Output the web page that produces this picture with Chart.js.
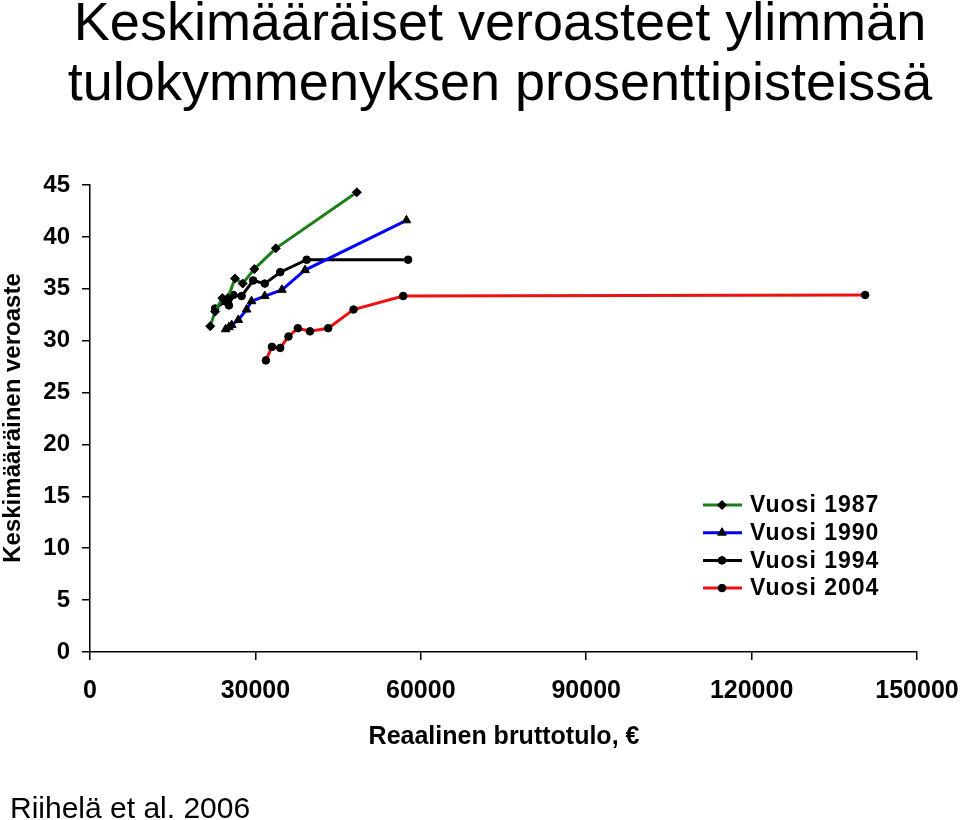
<!DOCTYPE html>
<html>
<head>
<meta charset="utf-8">
<script src="https://cdn.jsdelivr.net/npm/chart.js@4.4.1/dist/chart.umd.min.js"></script>
<style>
  html, body { margin: 0; padding: 0; background: #fff; }
  #wrap { width: 960px; height: 820px; position: relative; }
</style>
</head>
<body>
<div id="wrap"><canvas id="taxChart" width="960" height="820"></canvas></div>
<script>
// values (income in euros, tax rate in %)
const income1987 = [21800, 22700, 24000, 25000, 26300, 27700, 29800, 33700, 48400];
const rate1987   = [31.4, 32.8, 34.1, 34.1, 36.0, 35.5, 36.9, 38.9, 44.3];
const income1990 = [24600, 25200, 25700, 26900, 28400, 29300, 31700, 34800, 39000, 57400];
const rate1990   = [31.1, 31.3, 31.5, 32.0, 33.0, 33.8, 34.3, 34.9, 36.8, 41.6];
const income1994 = [22700, 24500, 25200, 26000, 27500, 29600, 31700, 34500, 39300, 57700];
const rate1994   = [33.1, 33.8, 33.4, 34.4, 34.3, 35.8, 35.5, 36.6, 37.8, 37.8];
const income2004 = [31900, 33000, 34500, 36000, 37700, 39900, 43200, 47800, 56800, 140600];
const rate2004   = [28.1, 29.4, 29.3, 30.4, 31.2, 30.9, 31.2, 33.0, 34.3, 34.4];

const seriesLabels = ['Vuosi 1987', 'Vuosi 1990', 'Vuosi 1994', 'Vuosi 2004'];
const xTicks = [0, 30000, 60000, 90000, 120000, 150000];
const yTicks = [0, 5, 10, 15, 20, 25, 30, 35, 40, 45];

const FONT = '"Liberation Sans", Arial, Helvetica, sans-serif';

function toPoints(xs, ys) {
    return xs.map((x, i) => ({ x: x, y: ys[i] }));
}

function makeSeries(label, xs, ys, color, style, radius) {
    return {
        label: label,
        data: toPoints(xs, ys),
        borderColor: color,
        backgroundColor: '#000',
        pointBorderColor: '#000',
        pointBackgroundColor: '#000',
        borderWidth: 3,
        pointStyle: style,
        pointRadius: radius,
        pointBorderWidth: 1,
        tension: 0,
        fill: false
    };
}

// titles, axis captions, source and legend drawn on the canvas
const textPlugin = {
    id: 'texts',
    afterDraw(chart) {
        const ctx = chart.ctx;
        ctx.save();
        ctx.fillStyle = '#000';

        ctx.font = '54px ' + FONT;
        ctx.textAlign = 'center';
        ctx.textBaseline = 'alphabetic';
        ctx.fillText('Keskimääräiset veroasteet ylimmän', 500, 40);
        ctx.fillText('tulokymmenyksen prosenttipisteissä', 500, 100);

        ctx.font = 'bold 25px ' + FONT;
        ctx.textBaseline = 'middle';
        ctx.fillText('Reaalinen bruttotulo, €', 504, 737);

        ctx.save();
        ctx.translate(13, 418);
        ctx.rotate(-Math.PI / 2);
        ctx.font = 'bold 24px ' + FONT;
        ctx.fillText('Keskimääräinen veroaste', 0, 0);
        ctx.restore();

        ctx.font = '30px ' + FONT;
        ctx.textAlign = 'left';
        ctx.textBaseline = 'alphabetic';
        ctx.fillText('Riihelä et al. 2006', 10, 818);

        // legend
        ctx.font = 'bold 23px ' + FONT;
        ctx.textBaseline = 'middle';
        if ('letterSpacing' in ctx) ctx.letterSpacing = '1px';
        chart.data.datasets.forEach((ds, i) => {
            const y = 505 + i * 27.7;
            ctx.strokeStyle = ds.borderColor;
            ctx.lineWidth = 3;
            ctx.beginPath();
            ctx.moveTo(703, y);
            ctx.lineTo(742, y);
            ctx.stroke();
            ctx.fillStyle = '#000';
            ctx.strokeStyle = '#000';
            ctx.lineWidth = 1;
            if (Chart.helpers && Chart.helpers.drawPoint) {
                Chart.helpers.drawPoint(ctx, { pointStyle: ds.pointStyle, radius: ds.pointRadius, borderWidth: 1 }, 722, y);
            } else {
                ctx.beginPath();
                ctx.arc(722, y, 3.5, 0, Math.PI * 2);
                ctx.fill();
            }
            ctx.fillText(ds.label, 750, y + 1);
        });
        ctx.restore();
    }
};

const ctx = document.getElementById('taxChart').getContext('2d');
new Chart(ctx, {
    type: 'line',
    data: {
        datasets: [
            makeSeries(seriesLabels[0], income1987, rate1987, '#1a7f1a', 'rectRot', 4.5),
            makeSeries(seriesLabels[1], income1990, rate1990, '#0000ff', 'triangle', 5),
            makeSeries(seriesLabels[2], income1994, rate1994, '#000000', 'circle', 3.8),
            makeSeries(seriesLabels[3], income2004, rate2004, '#ee1111', 'circle', 3.8)
        ]
    },
    options: {
        responsive: false,
        animation: false,
        devicePixelRatio: 1,
        layout: {
            padding: { left: 0, right: 0, top: 185, bottom: 0 }
        },
        scales: {
            x: {
                type: 'linear',
                min: 0,
                max: 150000,
                afterBuildTicks(scale) {
                    scale.ticks = xTicks.map(v => ({ value: v }));
                },
                afterFit(scale) {
                    scale.height = 168;
                    scale.paddingRight = 43;
                },
                border: { display: true, color: '#000', width: 1.5 },
                grid: {
                    drawOnChartArea: false,
                    drawTicks: true,
                    tickLength: 8,
                    color: '#000',
                    lineWidth: 1.5
                },
                ticks: {
                    color: '#000',
                    padding: 16,
                    maxRotation: 0,
                    autoSkip: false,
                    font: { family: FONT, size: 25, weight: 'bold' },
                    callback: v => String(v)
                }
            },
            y: {
                type: 'linear',
                min: 0,
                max: 45,
                afterBuildTicks(scale) {
                    scale.ticks = yTicks.map(v => ({ value: v }));
                },
                afterFit(scale) {
                    scale.width = 90;
                },
                border: { display: true, color: '#000', width: 1.5 },
                grid: {
                    drawOnChartArea: false,
                    drawTicks: true,
                    tickLength: 8,
                    color: '#000',
                    lineWidth: 1.5
                },
                ticks: {
                    color: '#000',
                    padding: 12,
                    autoSkip: false,
                    font: { family: FONT, size: 24, weight: 'bold' },
                    callback: v => String(v)
                }
            }
        },
        plugins: {
            legend: { display: false },
            title: { display: false },
            tooltip: { enabled: false }
        }
    },
    plugins: [textPlugin]
});
</script>
</body>
</html>
